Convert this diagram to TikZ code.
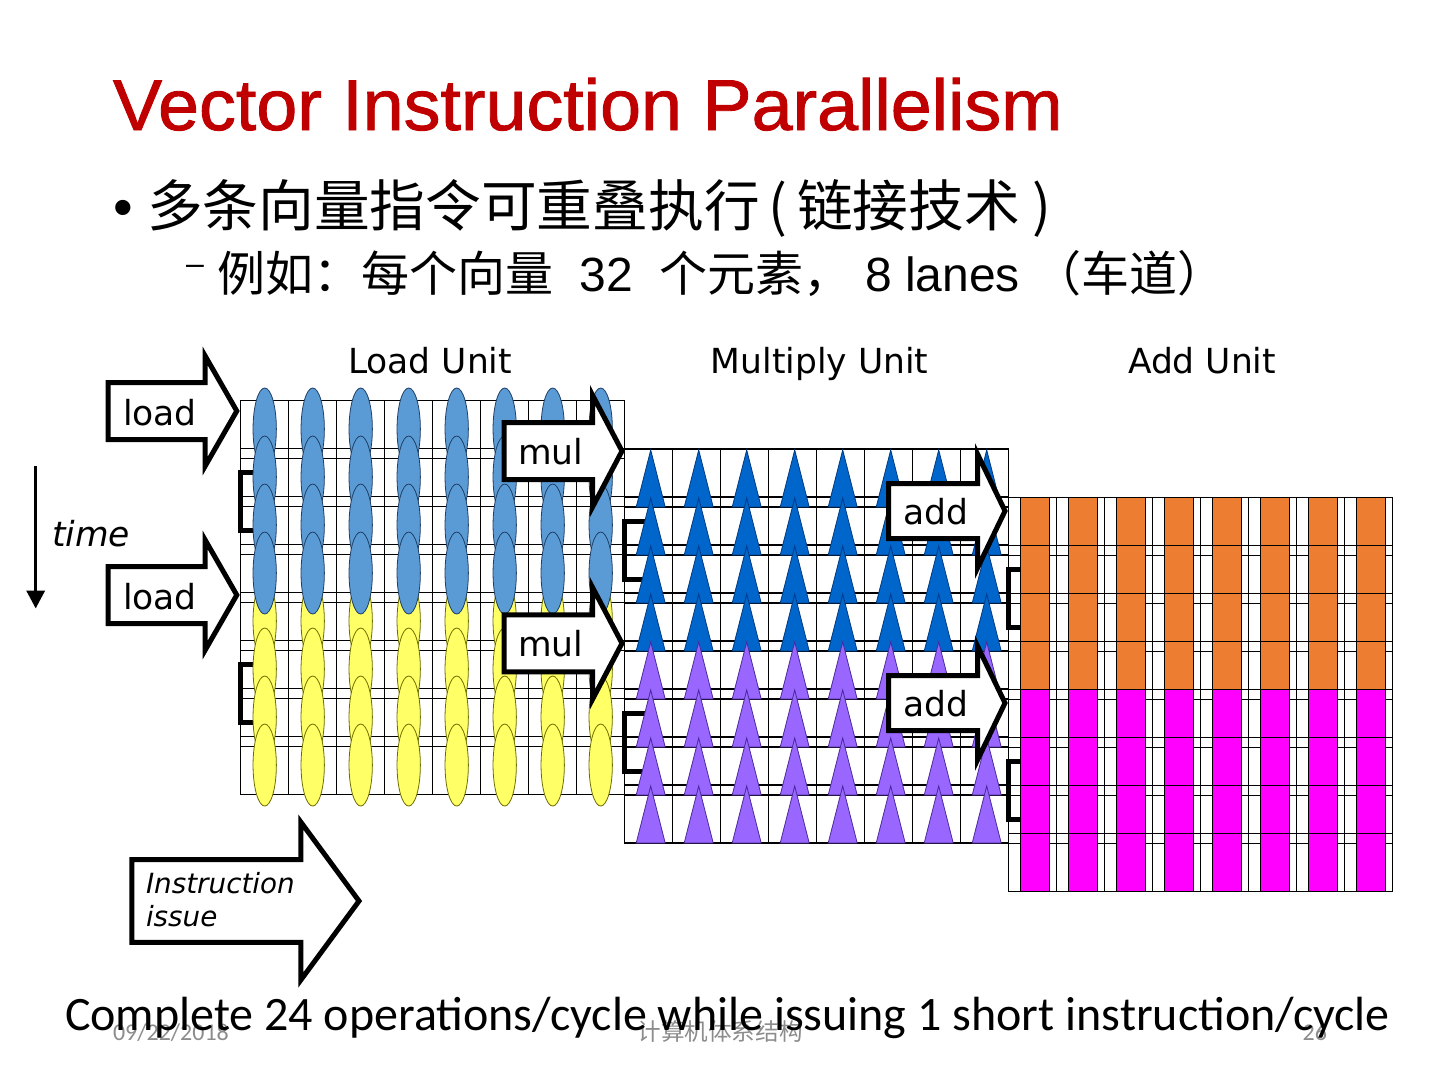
\documentclass[tikz,border=0pt]{standalone}
\usepackage{graphicx}
\usepackage{fontspec}
\setmainfont{DejaVu Sans}
\newfontfamily\cjk{Noto Sans CJK SC}
\newfontfamily\arialf{Liberation Sans}
\newfontfamily\arialfb[FakeBold=1.2]{Liberation Sans}
\newfontfamily\calib{Carlito}
\usetikzlibrary{arrows.meta}
\definecolor{titlered}{HTML}{C00000}
\definecolor{ellblue}{HTML}{5B9BD5}
\definecolor{ellblueline}{HTML}{1F3F66}
\definecolor{ellyellow}{HTML}{FFFF66}
\definecolor{ellyellowline}{HTML}{6E6E00}
\definecolor{triblue}{HTML}{0066CC}
\definecolor{tribl}{HTML}{003A80}
\definecolor{tripurple}{HTML}{9966FF}
\definecolor{tripl}{HTML}{4B2A99}
\definecolor{barorange}{HTML}{ED7D31}
\definecolor{barmagenta}{HTML}{FF00FF}
\definecolor{footgray}{HTML}{8C8C8C}
\newcommand{\unitgrid}[2]{%
  \foreach \k in {0,...,7}{\foreach \j in {0,...,7}{%
    \draw[gridline] ({#1+48*\j},{#2+48*\k}) rectangle +(48,58);}}}
\newcommand{\unitbrackets}[2]{%
  \draw[brk] ({#1+25},{#2+72}) -- (#1,{#2+72}) -- (#1,{#2+130}) -- ({#1+25},{#2+130});
  \draw[brk] ({#1+25},{#2+264}) -- (#1,{#2+264}) -- (#1,{#2+322}) -- ({#1+25},{#2+322});}
\newcommand{\blockarr}[6]{%
  \draw[barrow] (#1,{#2-#5}) -- (#3,{#2-#5}) -- (#3,{#2-#6}) -- (#4,#2)
    -- (#3,{#2+#6}) -- (#3,{#2+#5}) -- (#1,{#2+#5}) -- cycle;}
\begin{document}
\begin{tikzpicture}[x=0.5bp,y=-0.5bp,
  gridline/.style={draw=black,line width=0.55bp},
  barrow/.style={draw=black,fill=white,line width=2.5bp,line join=miter},
  brk/.style={draw=black,line width=2.5bp,line join=miter},
  txt/.style={inner sep=0pt,outer sep=0pt},
  lab/.style={txt,anchor=base,font=\fontsize{17.25bp}{20bp}\selectfont},
  armtxt/.style={txt,anchor=base west,font=\fontsize{17.25bp}{20bp}\selectfont},
  ellb/.style={fill=ellblue,draw=ellblueline,line width=0.4bp},
  elly/.style={fill=ellyellow,draw=ellyellowline,line width=0.4bp},
  trib/.style={fill=triblue,draw=tribl,line width=0.4bp},
  trip/.style={fill=tripurple,draw=tripl,line width=0.4bp},
  baro/.style={fill=barorange,draw=black,line width=0.5bp},
  barm/.style={fill=barmagenta,draw=black,line width=0.5bp},
  foot/.style={txt,text=footgray,font=\fontsize{12bp}{14bp}\selectfont}]
\useasboundingbox (0,0) rectangle (1440,1080);
\fill[white] (0,0) rectangle (1440,1080);

% ---------- title and bullets ----------
\node[txt,anchor=base west,text=titlered,font=\fontsize{36bp}{42bp}\selectfont\arialfb] (title) at (113,130) {\scalebox{1.023}[1]{Vector Instruction Parallelism}};
\node[txt,anchor=base west,font=\fontsize{28bp}{32bp}\selectfont\arialf] (bul) at (113,226) {•};
\node[txt,anchor=base west,font=\fontsize{27.85bp}{32bp}\selectfont\cjk] (b1) at (147,226) {多条向量指令可重叠执行\,(\,链接技术\ )};
\node[txt,anchor=base west,font=\fontsize{16bp}{18bp}\selectfont\arialf] (dash) at (186,274) {–};
\node[txt,anchor=base west,font=\fontsize{24bp}{28bp}\selectfont\arialf] (b2) at (217,291) {{\cjk 例如：每个向量}\ \ 32\ \ {\cjk 个元素，}\ 8 lanes\ {\cjk （车道）}};

% ---------- unit labels ----------
\node[lab] (lu) at (430,373) {Load Unit};
\node[lab] (mu) at (819.5,373) {Multiply Unit};
\node[lab] (au) at (1202,373) {Add Unit};

% ---------- grids ----------
\unitgrid{240.7}{400.7}
\unitgrid{624.7}{449}
\unitgrid{1008.5}{497.3}
\unitbrackets{240.7}{400.7}
\unitbrackets{624.7}{449}
\unitbrackets{1008.5}{497.3}

% ---------- load unit: ellipses ----------
\foreach \k in {4,...,7}{\foreach \j in {0,...,7}{%
  \draw[elly] ({240.7+24+48*\j},{400.7+28.3+48*\k}) ellipse [x radius=5.83bp, y radius=20.5bp];}}
\foreach \k in {0,...,3}{\foreach \j in {0,...,7}{%
  \draw[ellb] ({240.7+24+48*\j},{400.7+28.3+48*\k}) ellipse [x radius=5.83bp, y radius=20.5bp];}}

% ---------- multiply unit: triangles ----------
\foreach \k in {0,...,3}{\foreach \j in {0,...,7}{%
  \draw[trib] ({624.7+26+48*\j-14.5},{449+58+48*\k}) -- ({624.7+26+48*\j},{449+1+48*\k}) -- ({624.7+26+48*\j+14.5},{449+58+48*\k}) -- cycle;}}
\foreach \k in {4,...,7}{\foreach \j in {0,...,7}{%
  \draw[trip] ({624.7+26+48*\j-14.5},{449+58+48*\k}) -- ({624.7+26+48*\j},{449+1+48*\k}) -- ({624.7+26+48*\j+14.5},{449+58+48*\k}) -- cycle;}}

% ---------- add unit: bars ----------
\foreach \k in {0,...,3}{\foreach \j in {0,...,7}{%
  \draw[baro] ({1008.5+12.4+48*\j},{497.3+48*\k}) rectangle +(28.6,58);}}
\foreach \k in {4,...,7}{\foreach \j in {0,...,7}{%
  \draw[barm] ({1008.5+12.4+48*\j},{497.3+48*\k}) rectangle +(28.6,58);}}

% ---------- block arrows ----------
\blockarr{108.2}{411}{205.2}{236.8}{28.5}{55}
\blockarr{108.2}{595}{205.2}{236.8}{28.5}{55}
\blockarr{504.2}{451}{592.5}{622}{28.5}{56}
\blockarr{504.2}{643.3}{592.5}{622}{28.5}{56}
\blockarr{888.5}{511}{977.5}{1005}{27.5}{57}
\blockarr{888.5}{703}{977.5}{1005}{27.5}{57}
\blockarr{131.8}{901}{300.8}{359}{41.3}{79}

\node[armtxt] (ld1) at (123,425) {load};
\node[armtxt] (ld2) at (123,609) {load};
\node[armtxt] (ml1) at (518,464) {mul};
\node[armtxt] (ml2) at (518,656.5) {mul};
\node[armtxt] (ad1) at (903,524) {add};
\node[armtxt] (ad2) at (903,716) {add};
\node[txt,anchor=base west,font=\fontsize{13.9bp}{16bp}\selectfont\itshape] (iss1) at (146,893) {Instruction};
\node[txt,anchor=base west,font=\fontsize{13.9bp}{16bp}\selectfont\itshape] (iss2) at (146,926.7) {issue};

% ---------- time ----------
\coordinate (t0) at (35.7,466);
\coordinate (t1) at (35.7,608.5);
\draw[line width=1.75bp,-{Triangle[width=9bp,length=9bp]}] (t0) -- (t1);
\node[txt,anchor=base west,font=\fontsize{17.25bp}{20bp}\selectfont\itshape] (time) at (52,546) {time};

% ---------- footer and conclusion ----------
\node[foot,anchor=base west,font=\fontsize{12bp}{14bp}\selectfont\calib] (date) at (113,1040) {09/22/2018};
\node[foot,anchor=base,font=\fontsize{11.8bp}{14bp}\selectfont\cjk] (course) at (720,1040) {计算机体系结构};
\node[foot,anchor=base east,font=\fontsize{12bp}{14bp}\selectfont\calib] (page) at (1327,1040) {26};
\node[txt,anchor=base west,font=\fontsize{24bp}{28bp}\selectfont\calib] (concl) at (65,1030) {Complete 24 operations/cycle while issuing 1 short instruction/cycle};
\end{tikzpicture}
\end{document}
